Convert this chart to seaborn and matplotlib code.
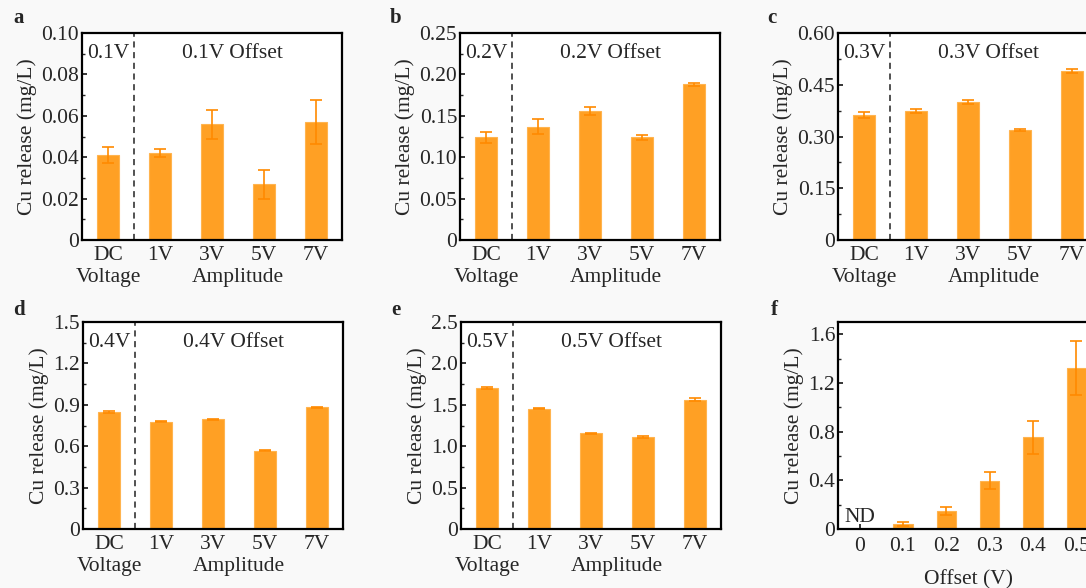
import matplotlib
matplotlib.use("Agg")
import matplotlib.pyplot as plt
import matplotlib.transforms as mtransforms
from matplotlib.ticker import FuncFormatter, AutoMinorLocator
import seaborn as sns

# Data
cats = ["DC", "1V", "3V", "5V", "7V"]
release_01 = [0.041, 0.042, 0.056, 0.027, 0.057]
err_01 = [0.004, 0.002, 0.007, 0.007, 0.0105]
release_02 = [0.124, 0.137, 0.156, 0.124, 0.188]
err_02 = [0.007, 0.009, 0.005, 0.003, 0.002]
release_03 = [0.363, 0.374, 0.400, 0.319, 0.490]
err_03 = [0.009, 0.006, 0.006, 0.002, 0.006]
release_04 = [0.848, 0.778, 0.795, 0.568, 0.882]
err_04 = [0.005, 0.005, 0.004, 0.004, 0.005]
release_05 = [1.70, 1.455, 1.155, 1.115, 1.56]
err_05 = [0.015, 0.01, 0.01, 0.01, 0.02]
offsets = ["0", "0.1", "0.2", "0.3", "0.4", "0.5"]
release_off = [0, 0.042, 0.147, 0.397, 0.752, 1.32]
err_off = [0, 0.017, 0.03, 0.07, 0.135, 0.22]

sns.set_style("ticks")
plt.rcParams["font.family"] = ["Liberation Serif", "DejaVu Serif"]

BAR = "#FFA024"
EDGE = "#FFB44F"
ERR = "#FF8A00"
FS = 15.5

W, H = 1086, 588
fig = plt.figure(figsize=(W / 100, H / 100), dpi=100, facecolor="#f9f9f9")


def make_ax(left, top):
    return fig.add_axes([left / W, 1 - (top + 207) / H, 260 / W, 207 / H])


def fmt(digits):
    def f(v, pos):
        if abs(v) < 1e-12:
            return "0"
        return f"{v:.{digits}f}"
    return FuncFormatter(f)


def style_ax(ax, ymax, ystep, digits):
    ax.set_facecolor("white")
    ax.set_ylim(0, ymax)
    ticks = [i * ystep for i in range(int(round(ymax / ystep)) + 1) if i * ystep <= ymax + 1e-9]
    ax.set_yticks(ticks)
    ax.yaxis.set_major_formatter(fmt(digits))
    ax.yaxis.set_minor_locator(AutoMinorLocator(2))
    ax.tick_params(axis="both", which="major", direction="in", length=3.5, width=1.1,
                   labelsize=FS, color="black")
    ax.tick_params(axis="y", which="minor", direction="in", length=2, width=1)
    ax.tick_params(axis="y", pad=2)
    ax.tick_params(axis="x", pad=4)
    for s in ax.spines.values():
        s.set_visible(True)
        s.set_linewidth(1.6)
        s.set_color("black")
    ax.set_ylabel("Cu release (mg/L)", fontsize=FS, labelpad=3)


def amp_panel(ax, vals, errs, ymax, ystep, digits, tag):
    sns.barplot(x=cats, y=vals, ax=ax, color=BAR, saturation=1, width=0.44,
                edgecolor=EDGE, linewidth=0.8)
    ax.errorbar(range(len(cats)), vals, yerr=errs, fmt="none", ecolor=ERR,
                elinewidth=1.2, capsize=4, capthick=1.2)
    style_ax(ax, ymax, ystep, digits)
    ax.set_xlim(-0.5, len(cats) - 0.5)
    ax.axvline(0.5, color="#222222", linestyle=(0, (4, 3)), linewidth=1.1)
    ax.set_xlabel("")
    tr = mtransforms.blended_transform_factory(ax.transData, ax.transAxes)
    ax.text(0, 0.903, tag, transform=tr, ha="center", va="center", fontsize=FS)
    ax.text(2.4, 0.903, tag + " Offset", transform=tr, ha="center", va="center", fontsize=FS)
    ax.text(0, -0.179, "Voltage", transform=tr, ha="center", va="center", fontsize=FS)
    ax.text(2.5, -0.179, "Amplitude", transform=tr, ha="center", va="center", fontsize=FS)


ax_a = make_ax(82, 33)
amp_panel(ax_a, release_01, err_01, 0.10, 0.02, 2, "0.1V")
ax_b = make_ax(460, 33)
amp_panel(ax_b, release_02, err_02, 0.25, 0.05, 2, "0.2V")
ax_c = make_ax(838, 33)
amp_panel(ax_c, release_03, err_03, 0.60, 0.15, 2, "0.3V")
ax_d = make_ax(83, 322)
amp_panel(ax_d, release_04, err_04, 1.5, 0.3, 1, "0.4V")
ax_e = make_ax(461, 322)
amp_panel(ax_e, release_05, err_05, 2.5, 0.5, 1, "0.5V")

# Panel f: release vs DC offset
ax_f = make_ax(838, 322)
sns.barplot(x=offsets, y=release_off, ax=ax_f, color=BAR, saturation=1, width=0.45,
            edgecolor=EDGE, linewidth=0.8)
ax_f.errorbar(range(1, len(offsets)), release_off[1:], yerr=err_off[1:], fmt="none",
              ecolor=ERR, elinewidth=1.2, capsize=4, capthick=1.2)
style_ax(ax_f, 1.7, 0.4, 1)
ax_f.set_xlim(-0.5, len(offsets) - 0.5)
ax_f.tick_params(axis="x", pad=6)
ax_f.set_xlabel("Offset (V)", fontsize=FS)
ax_f.xaxis.set_label_coords(0.5, -0.2)
ax_f.text(0, 0.015, "ND", ha="center", va="bottom", fontsize=FS)

# panel letters
for lab, (x, y) in zip("abcdef", [(13, 18), (390, 18), (767, 18),
                                   (13, 310), (391, 310), (771, 310)]):
    fig.text(x / W, 1 - y / H, lab, fontsize=15, fontweight="bold",
             ha="left", va="center")

fig.savefig("out.png", dpi=100, facecolor=fig.get_facecolor())
